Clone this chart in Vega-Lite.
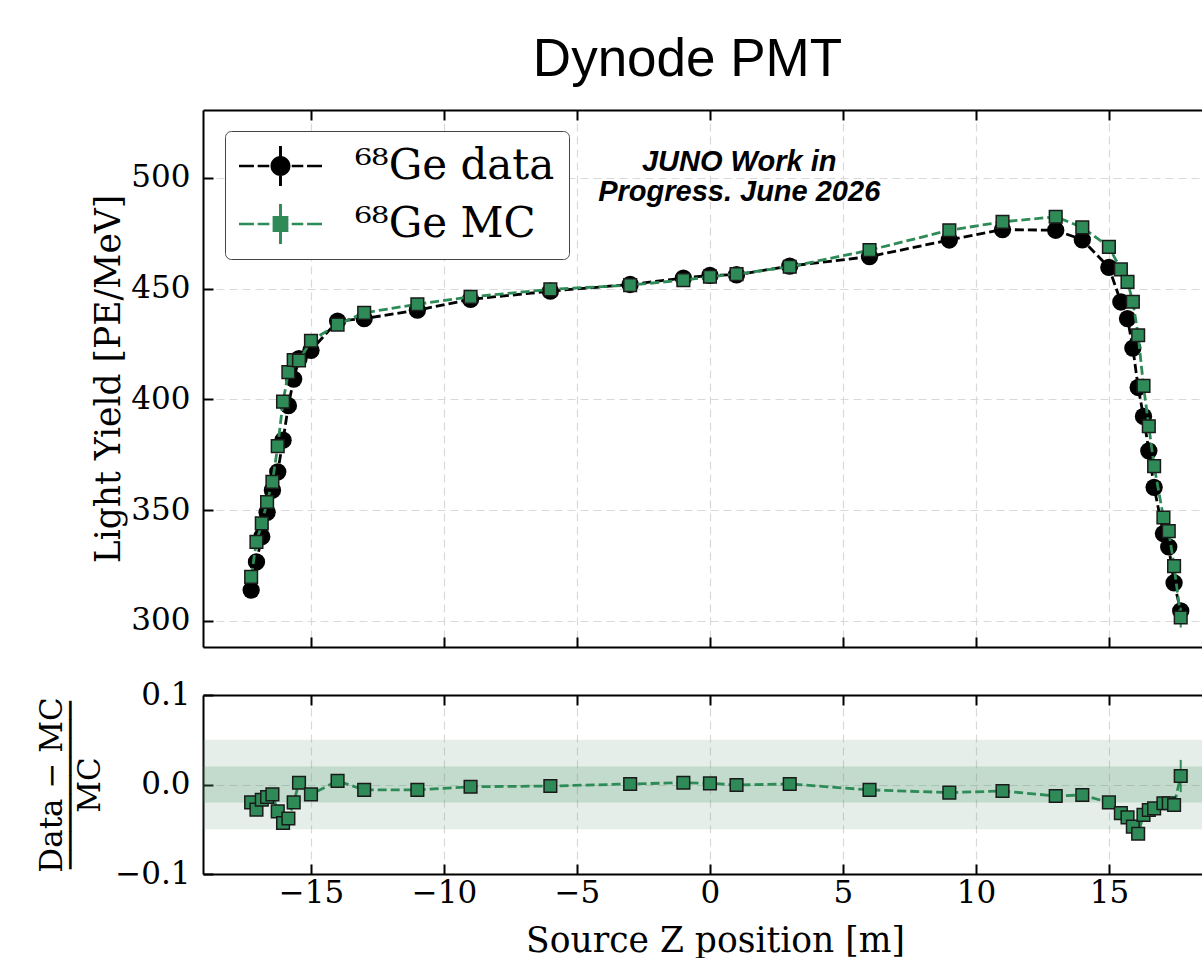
{
  "$schema": "https://vega.github.io/schema/vega-lite/v6.json",
  "padding": {"left": 36, "top": 34, "right": 0, "bottom": 0},
  "background": "white",
  "title": {"text": "Dynode PMT", "font": "Liberation Sans", "fontSize": 53, "fontWeight": "normal", "color": "black", "anchor": "middle", "frame": "group", "dx": -15, "offset": 22},
  "datasets": {
    "pts": [
      {"z": -17.25, "ly_d": 313.9, "ly_m": 319.9, "e_d": 1.0, "e_m": 1.0, "r": -0.020, "e_r": 0.003},
      {"z": -17.05, "ly_d": 326.6, "ly_m": 335.7, "e_d": 1.0, "e_m": 1.0, "r": -0.028, "e_r": 0.003},
      {"z": -16.85, "ly_d": 338.0, "ly_m": 344.0, "e_d": 1.0, "e_m": 1.0, "r": -0.017, "e_r": 0.003},
      {"z": -16.65, "ly_d": 349.0, "ly_m": 353.7, "e_d": 1.0, "e_m": 1.0, "r": -0.014, "e_r": 0.003},
      {"z": -16.45, "ly_d": 359.0, "ly_m": 362.8, "e_d": 1.0, "e_m": 1.0, "r": -0.011, "e_r": 0.003},
      {"z": -16.25, "ly_d": 367.3, "ly_m": 378.9, "e_d": 1.0, "e_m": 1.0, "r": -0.030, "e_r": 0.003},
      {"z": -16.05, "ly_d": 381.6, "ly_m": 399.0, "e_d": 1.0, "e_m": 1.0, "r": -0.043, "e_r": 0.003},
      {"z": -15.85, "ly_d": 397.2, "ly_m": 412.3, "e_d": 1.0, "e_m": 1.0, "r": -0.038, "e_r": 0.003},
      {"z": -15.65, "ly_d": 409.2, "ly_m": 417.8, "e_d": 1.0, "e_m": 1.0, "r": -0.020, "e_r": 0.003},
      {"z": -15.45, "ly_d": 418.4, "ly_m": 417.6, "e_d": 1.0, "e_m": 1.0, "r": 0.002, "e_r": 0.003},
      {"z": -15.0, "ly_d": 422.2, "ly_m": 426.5, "e_d": 1.0, "e_m": 1.0, "r": -0.011, "e_r": 0.003},
      {"z": -14.0, "ly_d": 435.4, "ly_m": 433.8, "e_d": 1.0, "e_m": 1.0, "r": 0.004, "e_r": 0.003},
      {"z": -13.0, "ly_d": 436.5, "ly_m": 439.1, "e_d": 1.0, "e_m": 1.0, "r": -0.006, "e_r": 0.003},
      {"z": -11.0, "ly_d": 440.3, "ly_m": 443.0, "e_d": 1.0, "e_m": 1.0, "r": -0.006, "e_r": 0.003},
      {"z": -9.0, "ly_d": 445.2, "ly_m": 446.3, "e_d": 1.0, "e_m": 1.0, "r": -0.0025, "e_r": 0.003},
      {"z": -6.0, "ly_d": 448.9, "ly_m": 449.7, "e_d": 1.0, "e_m": 1.0, "r": -0.0017, "e_r": 0.003},
      {"z": -3.0, "ly_d": 451.9, "ly_m": 451.6, "e_d": 1.0, "e_m": 1.0, "r": 0.0006, "e_r": 0.003},
      {"z": -1.0, "ly_d": 454.8, "ly_m": 453.9, "e_d": 1.0, "e_m": 1.0, "r": 0.002, "e_r": 0.003},
      {"z": 0.0, "ly_d": 456.0, "ly_m": 455.4, "e_d": 1.0, "e_m": 1.0, "r": 0.0013, "e_r": 0.003},
      {"z": 1.0, "ly_d": 456.3, "ly_m": 456.6, "e_d": 1.0, "e_m": 1.0, "r": -0.0006, "e_r": 0.003},
      {"z": 3.0, "ly_d": 460.2, "ly_m": 459.9, "e_d": 1.0, "e_m": 1.0, "r": 0.0006, "e_r": 0.003},
      {"z": 6.0, "ly_d": 464.5, "ly_m": 467.4, "e_d": 1.0, "e_m": 1.0, "r": -0.006, "e_r": 0.003},
      {"z": 9.0, "ly_d": 472.0, "ly_m": 476.4, "e_d": 1.0, "e_m": 1.0, "r": -0.009, "e_r": 0.003},
      {"z": 11.0, "ly_d": 476.7, "ly_m": 480.2, "e_d": 1.0, "e_m": 1.0, "r": -0.0073, "e_r": 0.003},
      {"z": 13.0, "ly_d": 476.4, "ly_m": 482.5, "e_d": 1.0, "e_m": 1.0, "r": -0.0128, "e_r": 0.003},
      {"z": 14.0, "ly_d": 472.1, "ly_m": 477.7, "e_d": 1.0, "e_m": 1.0, "r": -0.0117, "e_r": 0.003},
      {"z": 15.0, "ly_d": 459.6, "ly_m": 468.9, "e_d": 1.0, "e_m": 1.0, "r": -0.020, "e_r": 0.003},
      {"z": 15.45, "ly_d": 444.0, "ly_m": 458.7, "e_d": 1.0, "e_m": 1.0, "r": -0.032, "e_r": 0.003},
      {"z": 15.7, "ly_d": 436.5, "ly_m": 453.1, "e_d": 1.0, "e_m": 1.0, "r": -0.0367, "e_r": 0.003},
      {"z": 15.9, "ly_d": 423.2, "ly_m": 444.1, "e_d": 1.0, "e_m": 1.0, "r": -0.047, "e_r": 0.003},
      {"z": 16.1, "ly_d": 405.4, "ly_m": 429.0, "e_d": 1.0, "e_m": 1.0, "r": -0.055, "e_r": 0.003},
      {"z": 16.3, "ly_d": 392.3, "ly_m": 406.1, "e_d": 1.0, "e_m": 1.0, "r": -0.034, "e_r": 0.003},
      {"z": 16.5, "ly_d": 376.8, "ly_m": 387.9, "e_d": 1.0, "e_m": 1.0, "r": -0.0285, "e_r": 0.003},
      {"z": 16.7, "ly_d": 360.3, "ly_m": 369.9, "e_d": 1.0, "e_m": 1.0, "r": -0.0266, "e_r": 0.003},
      {"z": 17.05, "ly_d": 339.4, "ly_m": 346.7, "e_d": 1.0, "e_m": 1.0, "r": -0.021, "e_r": 0.003},
      {"z": 17.25, "ly_d": 333.4, "ly_m": 340.5, "e_d": 1.0, "e_m": 1.0, "r": -0.021, "e_r": 0.003},
      {"z": 17.45, "ly_d": 317.2, "ly_m": 324.7, "e_d": 1.0, "e_m": 1.0, "r": -0.0229, "e_r": 0.003},
      {"z": 17.7, "ly_d": 304.5, "ly_m": 301.5, "e_d": 1.5, "e_m": 4.5, "r": 0.0095, "e_r": 0.018}
    ],
    "bands": [
      {"band": "outer", "lo": -0.05, "hi": 0.05},
      {"band": "inner", "lo": -0.02, "hi": 0.02}
    ],
    "note": [
      {"z": 1.1, "ly": 507.2, "label": "JUNO Work in\nProgress. June 2026"}
    ]
  },
  "config": {
    "view": {"stroke": null},
    "axis": {
      "labelFont": "DejaVu Serif", "labelFontSize": 31, "labelColor": "black",
      "titleFont": "DejaVu Serif", "titleFontSize": 34.5, "titleFontWeight": "normal", "titleColor": "black",
      "domainColor": "black", "domainWidth": 2, "tickColor": "black", "tickWidth": 2, "tickSize": -10,
      "labelPadding": 23, "gridColor": "#d9d9d9", "gridDash": [8, 5], "gridWidth": 1.2
    },
    "legend": {
      "labelFont": "DejaVu Serif", "labelFontSize": 42, "labelColor": "black", "labelLimit": 600
    }
  },
  "resolve": {"scale": {"color": "independent", "shape": "independent"}},
  "spacing": 31,
  "vconcat": [
    {
      "width": 999,
      "height": 537,
      "resolve": {"axis": {"x": "independent", "y": "independent"}},
      "layer": [
        {
          "data": {"name": "pts"},
          "mark": {"type": "errorbar", "color": "black", "thickness": 2},
          "encoding": {
            "x": {"field": "z", "type": "quantitative", "scale": {"domain": [-19.06, 18.5], "nice": false, "zero": false}, "axis": null},
            "y": {"field": "ly_d", "type": "quantitative", "scale": {"domain": [288.2, 530.7], "nice": false, "zero": false}, "axis": null},
            "yError": {"field": "e_d"}
          }
        },
        {
          "data": {"name": "pts"},
          "mark": {"type": "line", "color": "black", "strokeWidth": 2.8, "strokeDash": [9, 4]},
          "encoding": {
            "x": {"field": "z", "type": "quantitative", "scale": {"domain": [-19.06, 18.5], "nice": false, "zero": false},
                  "axis": {"orient": "bottom", "values": [-15, -10, -5, 0, 5, 10, 15], "labels": false, "title": null, "grid": true}},
            "y": {"field": "ly_d", "type": "quantitative", "scale": {"domain": [288.2, 530.7], "nice": false, "zero": false},
                  "axis": {"orient": "left", "values": [300, 350, 400, 450, 500], "title": "Light Yield [PE/MeV]", "grid": true, "titlePadding": 4}}
          }
        },
        {
          "data": {"name": "pts"},
          "mark": {"type": "point", "shape": "circle", "filled": true, "color": "black", "size": 300, "opacity": 1},
          "encoding": {
            "x": {"field": "z", "type": "quantitative", "scale": {"domain": [-19.06, 18.5], "nice": false, "zero": false}, "axis": null},
            "y": {"field": "ly_d", "type": "quantitative", "scale": {"domain": [288.2, 530.7], "nice": false, "zero": false}, "axis": null}
          }
        },
        {
          "data": {"name": "pts"},
          "mark": {"type": "errorbar", "color": "#2e8b57", "thickness": 2},
          "encoding": {
            "x": {"field": "z", "type": "quantitative", "scale": {"domain": [-19.06, 18.5], "nice": false, "zero": false}, "axis": null},
            "y": {"field": "ly_m", "type": "quantitative", "scale": {"domain": [288.2, 530.7], "nice": false, "zero": false}, "axis": null},
            "yError": {"field": "e_m"}
          }
        },
        {
          "data": {"name": "pts"},
          "mark": {"type": "line", "color": "#2e8b57", "strokeWidth": 2.8, "strokeDash": [9, 4]},
          "encoding": {
            "x": {"field": "z", "type": "quantitative", "scale": {"domain": [-19.06, 18.5], "nice": false, "zero": false},
                  "axis": {"orient": "top", "values": [-15, -10, -5, 0, 5, 10, 15], "labels": false, "title": null, "grid": false}},
            "y": {"field": "ly_m", "type": "quantitative", "scale": {"domain": [288.2, 530.7], "nice": false, "zero": false}, "axis": null}
          }
        },
        {
          "data": {"name": "pts"},
          "mark": {"type": "point", "shape": "square", "filled": true, "fill": "#2e8b57", "stroke": "#1a1a1a", "strokeWidth": 1.5, "size": 160, "opacity": 1},
          "encoding": {
            "x": {"field": "z", "type": "quantitative", "scale": {"domain": [-19.06, 18.5], "nice": false, "zero": false}, "axis": null},
            "y": {"field": "ly_m", "type": "quantitative", "scale": {"domain": [288.2, 530.7], "nice": false, "zero": false}, "axis": null}
          }
        },
        {
          "data": {"name": "note"},
          "mark": {"type": "text", "font": "Liberation Sans", "fontSize": 29, "fontStyle": "italic", "fontWeight": "bold", "color": "black", "align": "center", "baseline": "middle", "lineBreak": "\n", "lineHeight": 30},
          "encoding": {
            "x": {"field": "z", "type": "quantitative", "scale": {"domain": [-19.06, 18.5], "nice": false, "zero": false}, "axis": null},
            "y": {"field": "ly", "type": "quantitative", "scale": {"domain": [288.2, 530.7], "nice": false, "zero": false}, "axis": null},
            "text": {"field": "label"}
          }
        },
        {
          "data": {"name": "pts"},
          "transform": [{"filter": "false"}],
          "mark": {"type": "point", "filled": true, "opacity": 1, "size": 1764},
          "encoding": {
            "shape": {"field": "series", "type": "nominal",
              "scale": {"domain": ["\u2076\u2078Ge data", "\u2076\u2078Ge MC"],
                "range": [
                  "M-1,-0.06H-0.289V0.06H-1ZM-0.11,-0.06H0.443V0.06H-0.11ZM1.51,-0.06H2.062V0.06H1.51ZM2.241,-0.06H2.952V0.06H2.241ZM0.906,-0.95H1.046V0.95H0.906ZM1.452,0A0.476,0.476,0,1,1,0.5,0A0.476,0.476,0,1,1,1.452,0Z",
                  "M-1,-0.06H-0.289V0.06H-1ZM-0.11,-0.06H0.443V0.06H-0.11ZM1.51,-0.06H2.062V0.06H1.51ZM2.241,-0.06H2.952V0.06H2.241ZM0.906,-0.95H1.046V0.95H0.906ZM0.6,-0.376H1.352V0.376H0.6Z"
                ]},
              "legend": {"title": null, "orient": "none", "legendX": 22, "legendY": 21, "symbolSize": 1764, "symbolStrokeWidth": 0, "labelOffset": 74, "padding": 14, "rowPadding": 16, "fillColor": "white", "strokeColor": "#444444", "cornerRadius": 6}},
            "color": {"field": "series", "type": "nominal",
              "scale": {"domain": ["\u2076\u2078Ge data", "\u2076\u2078Ge MC"], "range": ["#000000", "#2e8b57"]},
              "legend": {"title": null, "orient": "none", "legendX": 22, "legendY": 21, "symbolSize": 1764, "symbolStrokeWidth": 0, "labelOffset": 74, "padding": 14, "rowPadding": 16, "fillColor": "white", "strokeColor": "#444444", "cornerRadius": 6}}
          }
        }
      ]
    },
    {
      "width": 999,
      "height": 179,
      "resolve": {"axis": {"x": "independent", "y": "independent"}},
      "layer": [
        {
          "data": {"name": "bands"},
          "transform": [{"filter": "datum.band == 'outer'"}],
          "mark": {"type": "rect", "color": "#5a8a6a", "opacity": 0.15},
          "encoding": {
            "y": {"field": "lo", "type": "quantitative", "scale": {"domain": [-0.1, 0.1], "nice": false, "zero": false}, "axis": null},
            "y2": {"field": "hi"}
          }
        },
        {
          "data": {"name": "bands"},
          "transform": [{"filter": "datum.band == 'inner'"}],
          "mark": {"type": "rect", "color": "#2e8b57", "opacity": 0.19},
          "encoding": {
            "y": {"field": "lo", "type": "quantitative", "scale": {"domain": [-0.1, 0.1], "nice": false, "zero": false}, "axis": null},
            "y2": {"field": "hi"}
          }
        },
        {
          "data": {"name": "pts"},
          "mark": {"type": "line", "color": "#2e8b57", "strokeWidth": 2.8, "strokeDash": [9, 4]},
          "encoding": {
            "x": {"field": "z", "type": "quantitative", "scale": {"domain": [-19.06, 18.5], "nice": false, "zero": false},
                  "axis": {"orient": "bottom", "values": [-15, -10, -5, 0, 5, 10, 15], "title": "Source Z position [m]", "grid": true, "titleX": 512, "titlePadding": 16, "labelPadding": 14}},
            "y": {"field": "r", "type": "quantitative", "scale": {"domain": [-0.1, 0.1], "nice": false, "zero": false},
                  "axis": {"orient": "left", "values": [-0.1, 0, 0.1], "format": ".1f", "grid": true, "titleFontSize": 31, "titleLineHeight": 19, "titlePadding": 8,
                           "title": ["Data \u2212 MC", "\u2500\u2500\u2500\u2500\u2500\u2500\u2500\u2500\u2500", "MC"]}}
          }
        },
        {
          "data": {"name": "pts"},
          "mark": {"type": "errorbar", "color": "#2e8b57", "thickness": 2},
          "encoding": {
            "x": {"field": "z", "type": "quantitative", "scale": {"domain": [-19.06, 18.5], "nice": false, "zero": false}, "axis": null},
            "y": {"field": "r", "type": "quantitative", "scale": {"domain": [-0.1, 0.1], "nice": false, "zero": false}, "axis": null},
            "yError": {"field": "e_r"}
          }
        },
        {
          "data": {"name": "pts"},
          "mark": {"type": "point", "shape": "square", "filled": true, "fill": "#2e8b57", "stroke": "#1a1a1a", "strokeWidth": 1.5, "size": 160, "opacity": 1},
          "encoding": {
            "x": {"field": "z", "type": "quantitative", "scale": {"domain": [-19.06, 18.5], "nice": false, "zero": false},
                  "axis": {"orient": "top", "values": [-15, -10, -5, 0, 5, 10, 15], "labels": false, "title": null, "grid": false}},
            "y": {"field": "r", "type": "quantitative", "scale": {"domain": [-0.1, 0.1], "nice": false, "zero": false}, "axis": null}
          }
        }
      ]
    }
  ]
}
